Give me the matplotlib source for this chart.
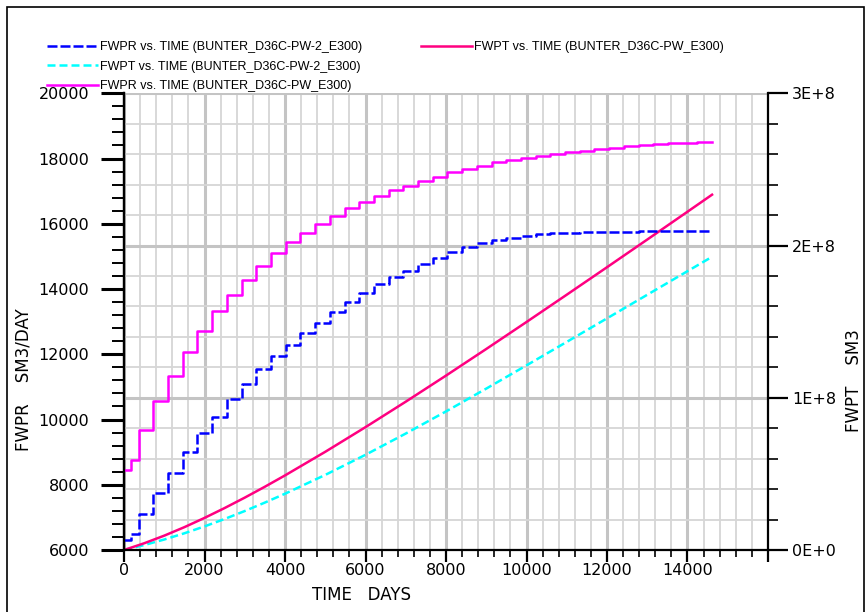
import matplotlib
matplotlib.use("Agg")
import matplotlib.pyplot as plt
from matplotlib.ticker import MultipleLocator, FuncFormatter
from matplotlib.patches import Rectangle

''' DATA read off the Eclipse summary plot '''
# report steps (days): half-year, then yearly
step_days = [0, 182, 365, 730, 1096, 1461, 1826, 2191, 2557, 2922, 3287, 3652,
             4018, 4383, 4748, 5114, 5479, 5844, 6209, 6575, 6940, 7305, 7670,
             8036, 8401, 8766, 9131, 9496, 9862, 10227, 10592, 10957, 11323,
             11688, 12053, 12418, 12784, 13149, 13514, 13879, 14245, 14610]

# FWPR (SM3/DAY) over each report interval
fwpr_pw2 = [6307, 6491, 7105, 7740, 8373, 9009, 9582, 10074, 10640, 11097,
            11548, 11937, 12294, 12640, 12950, 13290, 13602, 13869, 14145,
            14381, 14566, 14773, 14957, 15141, 15300, 15397, 15500, 15573,
            15622, 15674, 15705, 15725, 15745, 15755, 15760, 15762, 15764,
            15766, 15766, 15766, 15766]
fwpr_pw = [8456, 8763, 9684, 10553, 11342, 12058, 12703, 13317, 13808, 14290,
           14720, 15110, 15437, 15723, 15979, 16234, 16490, 16674, 16848,
           17032, 17155, 17309, 17442, 17590, 17670, 17770, 17892, 17954,
           18026, 18077, 18149, 18200, 18230, 18282, 18333, 18384, 18415,
           18456, 18487, 18487, 18518]

# FWPT (SM3), cumulative
fwpt_days = [0, 500, 1000, 1500, 2000, 2500, 3000, 3500, 4000, 5000, 6000,
             7000, 8000, 9000, 10000, 11000, 12000, 13000, 14000, 14610]
fwpt_pw = [0, 4.41e6, 9.43e6, 15.0e6, 21.08e6, 27.56e6, 34.4e6, 41.56e6,
           48.99e6, 64.5e6, 80.7e6, 97.42e6, 114.56e6, 132.04e6, 149.77e6,
           167.7e6, 185.75e6, 203.93e6, 222.22e6, 233.4e6]
fwpt_pw2 = [0, 3.24e6, 6.89e6, 10.98e6, 15.5e6, 20.37e6, 25.6e6, 31.15e6,
            36.96e6, 49.32e6, 62.54e6, 76.5e6, 91.02e6, 106.01e6, 121.28e6,
            136.7e6, 152.16e6, 167.66e6, 183.15e6, 192.6e6]

x_ticks = [0, 2000, 4000, 6000, 8000, 10000, 12000, 14000, 16000]
x_labels = ['0', '2000', '4000', '6000', '8000', '10000', '12000', '14000', '']
right_labels = {0: '0E+0', 1: '1E+8', 2: '2E+8', 3: '3E+8'}

names = ['FWPR vs. TIME (BUNTER_D36C-PW-2_E300)',
         'FWPT vs. TIME (BUNTER_D36C-PW-2_E300)',
         'FWPR vs. TIME (BUNTER_D36C-PW_E300)',
         'FWPT vs. TIME (BUNTER_D36C-PW_E300)']

W, H = 866, 612
tickfont = 'DejaVu Sans'
fig = plt.figure(figsize=(W / 100, H / 100), dpi=100)

# bottom axes: time axis + FWPT on the right, carries all grid lines
ax = fig.add_axes([124 / W, (H - 550) / H, (768 - 124) / W, (550 - 93.3) / H])
# top axes: FWPR on the left (twinx resets ax ticks to the left, so fix after)
axl = ax.twinx()
ax.yaxis.tick_right()
axl.yaxis.tick_left()

ax.set_xlim(0, 16000)
ax.set_ylim(0, 3e8)
ax.xaxis.set_minor_locator(MultipleLocator(400))
ax.yaxis.set_major_locator(MultipleLocator(1e8))
ax.yaxis.set_minor_locator(MultipleLocator(2e7))
ax.set_xticks(x_ticks)
ax.set_xticklabels(x_labels)
ax.yaxis.set_major_formatter(FuncFormatter(lambda v, p: right_labels.get(int(round(v / 1e8)), '')))
ax.grid(which='minor', color='#d6d6d6', lw=1.3)
ax.grid(which='major', color='#c4c4c4', lw=2.2)
ax.set_axisbelow(True)
ax.tick_params(axis='x', which='major', direction='out', length=8.5, width=1.6, pad=1,
               labelsize=11.5)
ax.tick_params(axis='x', which='minor', direction='out', length=5, width=1.2)
ax.tick_params(axis='y', which='major', direction='out', length=14.5, width=1.6, pad=3,
               labelsize=11.5, left=False, labelleft=False, right=True, labelright=True)
ax.tick_params(axis='y', which='minor', direction='out', length=7.2, width=1.2,
               left=False, right=True)
for lab in ax.get_xticklabels() + ax.get_yticklabels():
    lab.set_family(tickfont)
for s in ['left', 'right', 'bottom']:
    ax.spines[s].set_linewidth(1.6)
    ax.spines[s].set_color('black')
ax.spines['top'].set_visible(False)

l_pt2, = ax.plot(fwpt_days, fwpt_pw2, color='#00ffff', lw=1.8, dashes=(3.2, 1.6))
l_pt, = ax.plot(fwpt_days, fwpt_pw, color='#ff0080', lw=1.8)

axl.set_ylim(6000, 20000)
axl.yaxis.set_major_locator(MultipleLocator(2000))
axl.yaxis.set_minor_locator(MultipleLocator(400))
axl.tick_params(axis='y', which='major', direction='out', length=16.5, width=2.2, pad=8.5,
                labelsize=11.5, left=True, labelleft=True, right=False, labelright=False)
axl.tick_params(axis='y', which='minor', direction='out', length=8.6, width=1.4,
                left=True, right=False)
for lab in axl.get_yticklabels():
    lab.set_family(tickfont)
for s in ['top', 'right', 'bottom']:
    axl.spines[s].set_visible(False)
axl.spines['left'].set_linewidth(1.6)

l_pr2, = axl.plot(step_days, fwpr_pw2 + fwpr_pw2[-1:], drawstyle='steps-post',
                  color='#0000ff', lw=1.8, dashes=(4, 1.2))
l_pr, = axl.plot(step_days, fwpr_pw + fwpr_pw[-1:], drawstyle='steps-post',
                 color='#ff00ff', lw=1.8)

# axis titles
fig.text(361 / W, 1 - 595 / H, 'TIME   DAYS', ha='center', va='center',
         fontsize=12, family=tickfont)
fig.text(24 / W, 1 - 380 / H, 'FWPR    SM3/DAY', ha='center', va='center',
         rotation=90, fontsize=12, family=tickfont)
fig.text(854 / W, 1 - 381 / H, 'FWPT    SM3', ha='center', va='center',
         rotation=90, fontsize=12, family=tickfont)

# legends above the plot
leg_kw = dict(frameon=False, borderpad=0, borderaxespad=0, handlelength=4.1,
              handletextpad=0.15, labelspacing=0.62,
              prop={'family': 'Liberation Sans', 'size': 9})
leg1 = fig.legend([l_pr2, l_pt2, l_pr], names[:3], loc='upper left',
                  bbox_to_anchor=(47 / W, 1 - 41 / H), **leg_kw)
leg2 = fig.legend([l_pt], names[3:], loc='upper left',
                  bbox_to_anchor=(421 / W, 1 - 41 / H), **leg_kw)

# outer frame
fig.patches.append(Rectangle((7 / W, -0.02), (864 - 7) / W, 1 - 7 / H + 0.02,
                             transform=fig.transFigure, fill=False,
                             edgecolor='black', lw=1.2))

fig.savefig('out.png', dpi=100)
